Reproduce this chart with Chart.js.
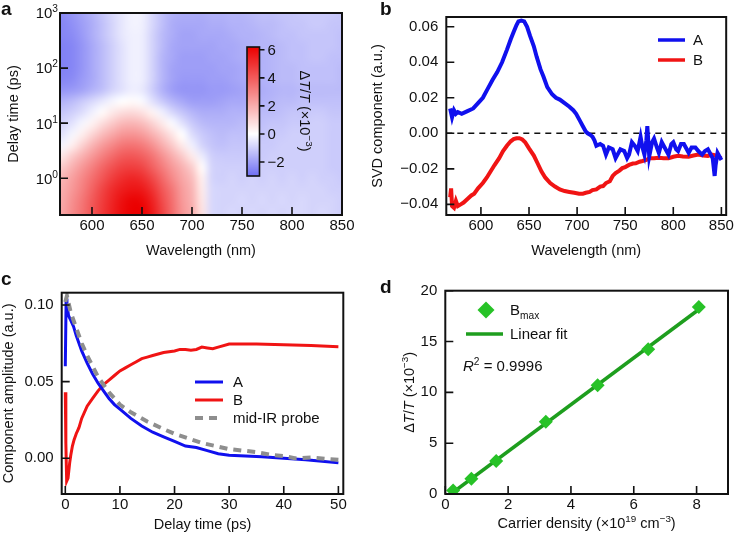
<!DOCTYPE html>
<html>
<head>
<meta charset="utf-8">
<script src="https://cdn.jsdelivr.net/npm/chart.js@4.4.1/dist/chart.umd.min.js"></script>
<style>
  html, body { margin: 0; padding: 0; background: #fff; }
  #fig { position: relative; width: 736px; height: 540px; }
  canvas { position: absolute; }
</style>
</head>
<body>
<div id="fig">
  <canvas id="ca" width="368" height="270" style="left:0;top:0"></canvas>
  <canvas id="cb" width="368" height="270" style="left:368px;top:0"></canvas>
  <canvas id="cc" width="368" height="270" style="left:0;top:270px"></canvas>
  <canvas id="cd" width="368" height="270" style="left:368px;top:270px"></canvas>
</div>
<script>
// ---- panel a: transient map (rows = delay, cols = wavelength), dT/T x1e-3
const heatWl = [570, 580, 590, 600, 610, 620, 630, 640, 650, 660, 670, 680, 690, 700, 710,
  720, 730, 740, 750, 760, 770, 780, 790, 800, 810, 820, 830, 840, 850]
const heatDelay = [0.25, 0.4, 0.63, 1, 1.6, 2.5, 4, 6.3, 10, 16, 25, 40, 63, 100, 160, 250, 400, 630, 1000]
const heatVals = [
  [2.2, 2.8, 3.4, 4.1, 4.8, 5.4, 5.9, 6.2, 6.2, 5.6, 4.6, 3.6, 2.6, 2.0, 0.7, -0.8, -0.9, -0.8, -0.9, -0.8, -0.9, -0.8, -0.9, -0.8, -0.8, -0.9, -0.8, -0.9, -1.0],
  [2.1, 2.7, 3.3, 4.0, 4.7, 5.3, 5.8, 6.1, 6.0, 5.4, 4.4, 3.5, 2.5, 1.9, 0.6, -0.8, -0.9, -0.9, -0.8, -0.9, -0.8, -0.9, -0.8, -0.9, -0.8, -0.9, -0.9, -0.9, -1.0],
  [2.0, 2.5, 3.1, 3.8, 4.5, 5.1, 5.5, 5.7, 5.6, 5.0, 4.1, 3.3, 2.4, 1.8, 0.5, -0.8, -0.9, -0.9, -0.9, -0.9, -0.9, -0.9, -0.9, -0.9, -0.9, -0.9, -0.9, -1.0, -1.0],
  [1.8, 2.3, 2.9, 3.5, 4.1, 4.7, 5.1, 5.3, 5.1, 4.5, 3.7, 2.9, 2.2, 1.6, 0.4, -0.9, -1.0, -0.9, -1.0, -0.9, -1.0, -0.9, -1.0, -0.9, -1.0, -0.9, -1.0, -1.0, -1.1],
  [1.3, 1.9, 2.5, 3.1, 3.7, 4.2, 4.6, 4.7, 4.5, 3.9, 3.2, 2.5, 1.9, 1.2, 0.1, -0.9, -1.0, -1.0, -1.0, -1.0, -1.0, -1.0, -1.0, -1.0, -1.0, -1.0, -1.0, -1.1, -1.1],
  [0.6, 1.3, 1.9, 2.5, 3.1, 3.6, 4.0, 4.1, 3.9, 3.4, 2.7, 2.0, 1.3, 0.5, -0.4, -1.0, -1.1, -1.1, -1.1, -1.0, -1.1, -1.0, -1.0, -1.0, -1.0, -1.0, -1.0, -1.1, -1.1],
  [-0.2, 0.4, 1.1, 1.8, 2.4, 2.9, 3.3, 3.4, 3.2, 2.7, 2.0, 1.3, 0.5, -0.3, -0.9, -1.2, -1.3, -1.2, -1.2, -1.1, -1.1, -1.1, -1.0, -1.0, -1.0, -1.0, -1.0, -1.1, -1.1],
  [-0.6, -0.2, 0.4, 1.0, 1.6, 2.1, 2.5, 2.6, 2.4, 1.9, 1.3, 0.6, 0.0, -0.7, -1.1, -1.3, -1.4, -1.3, -1.3, -1.2, -1.2, -1.1, -1.1, -1.0, -1.0, -1.0, -1.0, -1.1, -1.1],
  [-0.9, -0.6, -0.2, 0.3, 0.8, 1.3, 1.7, 1.8, 1.6, 1.1, 0.5, -0.1, -0.6, -1.1, -1.4, -1.5, -1.5, -1.5, -1.4, -1.4, -1.3, -1.2, -1.2, -1.1, -1.1, -1.0, -1.0, -1.1, -1.1],
  [-1.2, -1.0, -0.7, -0.3, 0.1, 0.5, 0.8, 0.9, 0.7, 0.3, -0.3, -0.8, -1.2, -1.5, -1.7, -1.7, -1.7, -1.6, -1.6, -1.5, -1.4, -1.4, -1.3, -1.2, -1.2, -1.1, -1.1, -1.2, -1.2],
  [-1.6, -1.4, -1.1, -0.8, -0.5, -0.2, 0.0, 0.1, -0.1, -0.6, -1.1, -1.5, -1.8, -2.0, -2.0, -2.0, -1.9, -1.8, -1.8, -1.7, -1.6, -1.5, -1.4, -1.4, -1.3, -1.3, -1.3, -1.3, -1.3],
  [-2.2, -2.1, -1.9, -1.6, -1.3, -0.9, -0.6, -0.35, -0.45, -1.0, -1.6, -2.0, -2.2, -2.2, -2.2, -2.1, -2.1, -2.0, -1.9, -1.8, -1.7, -1.6, -1.5, -1.5, -1.4, -1.4, -1.4, -1.4, -1.4],
  [-2.5, -2.4, -2.1, -1.8, -1.4, -1.0, -0.6, -0.3, -0.35, -0.9, -1.5, -1.9, -2.1, -2.1, -2.1, -2.0, -2.0, -1.9, -1.8, -1.7, -1.6, -1.5, -1.4, -1.4, -1.3, -1.3, -1.3, -1.3, -1.4],
  [-2.6, -2.5, -2.2, -1.8, -1.4, -1.0, -0.6, -0.3, -0.35, -0.9, -1.5, -1.9, -2.0, -2.0, -2.0, -2.0, -1.9, -1.9, -1.8, -1.7, -1.6, -1.5, -1.4, -1.4, -1.3, -1.3, -1.3, -1.3, -1.4],
  [-2.6, -2.5, -2.2, -1.8, -1.4, -1.0, -0.6, -0.3, -0.35, -0.9, -1.5, -1.8, -2.0, -2.0, -2.0, -1.9, -1.9, -1.8, -1.7, -1.7, -1.6, -1.5, -1.4, -1.3, -1.3, -1.2, -1.2, -1.3, -1.3],
  [-2.6, -2.5, -2.2, -1.8, -1.4, -1.0, -0.6, -0.3, -0.35, -0.9, -1.4, -1.8, -1.9, -1.9, -1.9, -1.9, -1.8, -1.8, -1.7, -1.6, -1.5, -1.5, -1.4, -1.3, -1.3, -1.2, -1.2, -1.2, -1.3],
  [-2.5, -2.4, -2.1, -1.7, -1.3, -0.9, -0.5, -0.3, -0.35, -0.9, -1.4, -1.7, -1.9, -1.9, -1.8, -1.8, -1.8, -1.7, -1.6, -1.6, -1.5, -1.4, -1.3, -1.3, -1.2, -1.2, -1.2, -1.2, -1.3],
  [-2.5, -2.3, -2.0, -1.7, -1.3, -0.9, -0.5, -0.25, -0.3, -0.8, -1.3, -1.7, -1.8, -1.8, -1.8, -1.7, -1.7, -1.6, -1.6, -1.5, -1.4, -1.4, -1.3, -1.2, -1.2, -1.1, -1.1, -1.2, -1.2],
  [-2.4, -2.2, -1.9, -1.6, -1.2, -0.8, -0.5, -0.25, -0.3, -0.8, -1.3, -1.6, -1.7, -1.7, -1.7, -1.6, -1.6, -1.5, -1.5, -1.4, -1.3, -1.3, -1.2, -1.2, -1.1, -1.1, -1.1, -1.1, -1.2]
]
const mapWlTicks = [600, 650, 700, 750, 800, 850]
const mapDelayTicks = [1, 10, 100, 1000]
const cbTicks = [-2, 0, 2, 4, 6]
const CB_MIN = -3, CB_MAX = 6.2

// ---- panel b: SVD spectra
const svdWlA = [568, 570, 572, 574, 576, 580, 586, 592, 597, 602, 607, 612, 617, 622, 627, 631, 634, 637, 639, 642,
  645, 648, 651, 655, 658, 662, 665, 669, 674, 678, 682, 687, 692, 696, 699, 703, 706, 709, 711, 714,
  716, 718, 720, 724, 727, 730, 733, 737, 740, 742, 745, 749, 752, 754, 757, 760, 763, 766, 768, 770,
  772, 773, 775, 778, 780, 783, 785, 788, 790, 793, 795, 798, 800, 803, 805, 808, 811, 814, 816, 819,
  823, 826, 830, 833, 836, 839, 841, 843, 844, 846, 848, 850]
const svdA = [0.014, 0.009, 0.013, 0.011, 0.012, 0.011, 0.0125, 0.014, 0.017, 0.020, 0.025, 0.030, 0.0345, 0.040, 0.047, 0.053, 0.057, 0.061, 0.063, 0.0635,
  0.063, 0.060, 0.055, 0.049, 0.043, 0.036, 0.032, 0.026, 0.022, 0.020, 0.019, 0.017, 0.015, 0.013, 0.011, 0.007, 0.004, 0.001, 0.000, -0.001,
  -0.002, -0.004, -0.007, -0.006, -0.007, -0.012, -0.008, -0.009, -0.014, -0.012, -0.009, -0.010, -0.014, -0.012, -0.005, -0.007, -0.010, -0.002, -0.008, -0.012,
  -0.004, 0.004, -0.013, -0.005, -0.003, -0.008, -0.011, -0.005, -0.007, -0.010, -0.012, -0.006, -0.005, -0.009, -0.010, -0.006, -0.006, -0.009, -0.011, -0.008,
  -0.008, -0.010, -0.012, -0.010, -0.009, -0.012, -0.014, -0.024, -0.018, -0.011, -0.013, -0.015]
const svdWlB = [568, 569, 570, 572, 574, 576, 579, 582, 586, 590, 593, 597, 602, 606, 610, 614, 619, 623, 627, 631,
  634, 637, 640, 643, 646, 650, 655, 659, 663, 667, 672, 677, 682, 687, 692, 697, 702, 706, 709, 713,
  716, 720, 724, 727, 730, 734, 737, 740, 744, 747, 750, 754, 758, 761, 765, 768, 772, 775, 780, 785,
  790, 795, 800, 805, 810, 816, 821, 826, 831, 836, 840, 843, 846, 850]
const svdB = [-0.036, -0.031, -0.041, -0.042, -0.038, -0.041, -0.040, -0.039, -0.037, -0.035, -0.034, -0.031, -0.028, -0.025, -0.0215, -0.018, -0.014, -0.010, -0.007, -0.0045,
  -0.0033, -0.0028, -0.0028, -0.0035, -0.005, -0.0085, -0.0125, -0.017, -0.0215, -0.025, -0.028, -0.030, -0.0316, -0.0325, -0.033, -0.0335, -0.034, -0.034, -0.0335, -0.033,
  -0.032, -0.0316, -0.030, -0.0297, -0.028, -0.027, -0.024, -0.0224, -0.021, -0.0196, -0.019, -0.0178, -0.017, -0.0169, -0.016, -0.0156, -0.015, -0.0141, -0.014, -0.0138,
  -0.014, -0.0141, -0.0132, -0.0127, -0.013, -0.0132, -0.0125, -0.0119, -0.0125, -0.0127, -0.012, -0.0123, -0.013, -0.0141]
const zeroX = [564, 855]
const zeroY = [0, 0]
const svdWlTicks = [600, 650, 700, 750, 800, 850]
const svdTicks = [-0.04, -0.02, 0, 0.02, 0.04, 0.06]

// ---- panel c: component kinetics
const kinTA = [0, 0.15, 0.3, 0.6, 1, 1.5, 2, 3, 4, 5, 6, 7, 8, 9, 10, 12, 14, 16, 18, 20, 22, 24, 26, 28, 30, 33, 36, 40, 44, 47, 50]
const kinA = [0.06, 0.104, 0.1, 0.093, 0.09, 0.086, 0.08, 0.07, 0.062, 0.055, 0.049, 0.044, 0.039, 0.035, 0.032, 0.026, 0.021, 0.017, 0.014, 0.011, 0.008, 0.007, 0.005, 0.003, 0.002, 0.0015, 0.001, 0.0, -0.001, -0.002, -0.003]
const kinTB = [0, 0.1, 0.25, 0.5, 0.8, 1, 1.3, 1.6, 2, 2.5, 3, 4, 5, 6, 7, 8, 9, 10, 11, 12, 13, 14, 15, 16, 18, 20, 21, 22, 23, 24, 25, 26, 27, 28, 30, 32, 35, 40, 45, 50]
const kinB = [0.043, 0.01, -0.015, -0.013, -0.003, 0.002, 0.008, 0.012, 0.016, 0.02, 0.026, 0.034, 0.039, 0.044, 0.048, 0.051, 0.054, 0.057, 0.059, 0.061, 0.063, 0.065, 0.066, 0.067, 0.069, 0.070, 0.071, 0.071, 0.0705, 0.071, 0.0725, 0.072, 0.0715, 0.0725, 0.0745, 0.0745, 0.0745, 0.074, 0.0735, 0.0728]
const kinTIR = [0, 0.3, 1, 2, 3, 4, 5, 6, 7, 8, 10, 12, 15, 18, 20, 25, 30, 35, 38, 40, 42, 45, 48, 50]
const kinIR = [0.102, 0.106, 0.095, 0.085, 0.075, 0.067, 0.06, 0.053, 0.048, 0.043, 0.035, 0.030, 0.024, 0.019, 0.016, 0.010, 0.006, 0.004, 0.002, 0.0015, 0.0, 0.0005, -0.0005, -0.001]
const kinTTicks = [0, 10, 20, 30, 40, 50]
const kinTicks = [0, 0.05, 0.1]

// ---- panel d: B max vs carrier density
const density = [0.25, 0.83, 1.62, 3.2, 4.85, 6.46, 8.07]
const bmax = [0.35, 1.5, 3.25, 7.1, 10.7, 14.25, 18.4]
const fitX = [0.2, 8.07]
const fitY = [0.05, 18.15]
const densTicks = [0, 2, 4, 6, 8]
const bmaxTicks = [0, 5, 10, 15, 20]

const FONT = '"Liberation Sans", Arial, Helvetica, sans-serif'
const INK = '#111'
const BLUE = '#1010ee'
const RED = '#f01414'
const GREY = '#8e8e8e'
const GREEN = '#1e9e1e'
const GREEN_PT = '#27c227'
Chart.defaults.font.family = FONT
Chart.defaults.color = INK

function pts(xs, ys) { return xs.map((x, i) => ({ x, y: ys[i] })) }
const minus = s => s.replace('-', '\u2212')

function cmap(v) {
  if (v >= 0) {
    const t = Math.min(1, v / CB_MAX)
    return [255 - t * 20, 255 - t * 255, 255 - t * 255]
  }
  const t = Math.min(1, v / CB_MIN)
  return [255 - t * 145, 255 - t * 145, 255 - t * 12]
}

// text with italic / superscript / subscript pieces, centred vertically on y
function rich(ctx, segs, x, y, size, align, rot) {
  const fontOf = s => `${s.it ? 'italic ' : ''}${s.sup || s.sub ? size * 0.68 : size}px ${FONT}`
  let w = 0
  const ws = segs.map(s => { ctx.font = fontOf(s); const m = ctx.measureText(s.t).width; w += m; return m })
  ctx.save()
  ctx.translate(x, y)
  ctx.rotate(rot || 0)
  let cx = align === 'center' ? -w / 2 : align === 'right' ? -w : 0
  ctx.fillStyle = INK
  ctx.textAlign = 'left'
  ctx.textBaseline = 'alphabetic'
  segs.forEach((s, i) => {
    ctx.font = fontOf(s)
    const dy = s.sup ? -size * 0.4 : s.sub ? size * 0.25 : 0
    ctx.fillText(s.t, cx, dy + size * 0.36)
    cx += ws[i]
  })
  ctx.restore()
}

function axis(o) {
  return {
    type: o.type || 'linear',
    position: o.pos,
    min: o.min,
    max: o.max,
    grid: { display: false, drawTicks: false, tickLength: 0 },
    border: { display: false },
    ticks: {
      display: o.labels !== false,
      padding: o.pad,
      autoSkip: false,
      maxRotation: 0,
      font: { size: 15 },
      color: INK,
      callback: o.fmt || (v => String(v))
    },
    title: o.title
      ? { display: true, text: o.title, color: INK, font: { size: 14.5 }, padding: o.pos === 'left' ? { top: o.tpad } : { bottom: o.tpad } }
      : { display: false },
    afterBuildTicks: s => { s.ticks = o.ticks.map(v => ({ value: v })) },
    afterFit: s => { if (o.pos === 'left') s.width = o.size; else s.height = o.size }
  }
}

const frame = {
  id: 'frame',
  afterDraw(chart, args, opts) {
    const { ctx, chartArea: ca, scales: { x, y } } = chart
    ctx.save()
    ctx.strokeStyle = INK
    ctx.lineWidth = 1.6
    ctx.beginPath()
    x.ticks.forEach(t => { const p = x.getPixelForValue(t.value); ctx.moveTo(p, ca.bottom); ctx.lineTo(p, ca.bottom - 8) })
    y.ticks.forEach(t => { const p = y.getPixelForValue(t.value); ctx.moveTo(ca.left, p); ctx.lineTo(ca.left + 8, p) })
    ctx.stroke()
    ctx.lineWidth = 2
    ctx.strokeRect(ca.left, ca.top, ca.width, ca.height)
    ctx.fillStyle = INK
    ctx.font = `bold 19px ${FONT}`
    ctx.textAlign = 'left'
    ctx.textBaseline = 'alphabetic'
    ctx.fillText(opts.letter, opts.lx, opts.ly)
    ctx.restore()
  }
}

function base(padding, letter, lx, ly) {
  return {
    responsive: false,
    animation: false,
    devicePixelRatio: 1,
    layout: { padding, autoPadding: false },
    plugins: { legend: { display: false }, tooltip: { enabled: false }, frame: { letter, lx, ly } }
  }
}

function line(label, xs, ys, color, width, dash) {
  return { label, data: pts(xs, ys), showLine: true, borderColor: color, backgroundColor: color,
    borderWidth: width, borderDash: dash || [], pointRadius: 0, tension: 0 }
}

// ---------------- a ----------------
const heatLayer = {
  id: 'heat',
  beforeDatasetsDraw(chart) {
    const { ctx, chartArea: ca, scales: { x, y } } = chart
    const nx = heatWl.length, ny = heatDelay.length
    const off = document.createElement('canvas')
    off.width = nx; off.height = ny
    const oc = off.getContext('2d')
    const img = oc.createImageData(nx, ny)
    for (let r = 0; r < ny; r++) {
      for (let c = 0; c < nx; c++) {
        const col = cmap(heatVals[r][c])
        const i = ((ny - 1 - r) * nx + c) * 4
        img.data[i] = col[0]; img.data[i + 1] = col[1]; img.data[i + 2] = col[2]; img.data[i + 3] = 255
      }
    }
    oc.putImageData(img, 0, 0)
    const dw = (heatWl[nx - 1] - heatWl[0]) / (nx - 1)
    const half = Math.pow(heatDelay[ny - 1] / heatDelay[0], 0.5 / (ny - 1))
    const x0 = x.getPixelForValue(heatWl[0] - dw / 2)
    const x1 = x.getPixelForValue(heatWl[nx - 1] + dw / 2)
    const y0 = y.getPixelForValue(heatDelay[ny - 1] * half)
    const y1 = y.getPixelForValue(heatDelay[0] / half)
    ctx.save()
    ctx.beginPath(); ctx.rect(ca.left, ca.top, ca.width, ca.height); ctx.clip()
    ctx.imageSmoothingEnabled = true
    ctx.imageSmoothingQuality = 'high'
    ctx.drawImage(off, x0, y0, x1 - x0, y1 - y0)
    ctx.restore()
  },
  afterDraw(chart) {
    const { ctx, chartArea: ca, scales: { y } } = chart
    // log tick labels 10^n
    y.ticks.forEach(t => {
      rich(ctx, [{ t: '10' }, { t: String(Math.round(Math.log10(t.value))), sup: true }], ca.left - 2, y.getPixelForValue(t.value), 15, 'right')
    })
    // colour bar
    const bx = 247, by = 47, bw = 12.5, bh = 129
    const vy = v => by + (CB_MAX - v) / (CB_MAX - CB_MIN) * bh
    ctx.save()
    for (let i = 0; i < bh; i++) {
      const c = cmap(CB_MAX - (i + 0.5) / bh * (CB_MAX - CB_MIN))
      ctx.fillStyle = `rgb(${c[0]},${c[1]},${c[2]})`
      ctx.fillRect(bx, by + i, bw, 1.2)
    }
    ctx.strokeStyle = INK
    ctx.lineWidth = 1.6
    ctx.strokeRect(bx, by, bw, bh)
    ctx.beginPath()
    cbTicks.forEach(v => { ctx.moveTo(bx + bw, vy(v)); ctx.lineTo(bx + bw + 5, vy(v)) })
    ctx.stroke()
    ctx.fillStyle = INK
    ctx.font = `15px ${FONT}`
    ctx.textAlign = 'left'
    ctx.textBaseline = 'middle'
    cbTicks.forEach(v => ctx.fillText(minus(String(v)), bx + bw + 8, vy(v) + 1))
    ctx.restore()
    rich(ctx, [{ t: '\u0394' }, { t: 'T', it: true }, { t: '/' }, { t: 'T', it: true }, { t: ' (\u00d710' }, { t: '\u22123', sup: true }, { t: ')' }],
      305, 111, 14.5, 'center', Math.PI / 2)
  }
}

new Chart(document.getElementById('ca'), {
  type: 'scatter',
  data: { datasets: [] },
  options: Object.assign(base({ top: 13, right: 26, left: 0, bottom: 0 }, 'a', 1, 15), {
    scales: {
      x: axis({ pos: 'bottom', min: 568, max: 850, ticks: mapWlTicks, pad: 2, size: 55, title: 'Wavelength (nm)', tpad: 10 }),
      y: axis({ type: 'logarithmic', pos: 'left', min: 0.215, max: 1000, ticks: mapDelayTicks, labels: false, size: 60, title: 'Delay time (ps)', tpad: 4.8 })
    }
  }),
  plugins: [heatLayer, frame]
})

// ---------------- b ----------------
const legendB = {
  id: 'legendB',
  afterDraw(chart) {
    const { ctx } = chart
    const ds = chart.data.datasets
    ctx.save()
    ;[[ds[0], 40], [ds[1], 60]].forEach(([d, yy]) => {
      ctx.strokeStyle = d.borderColor; ctx.lineWidth = 3.5
      ctx.beginPath(); ctx.moveTo(290, yy); ctx.lineTo(317, yy); ctx.stroke()
      ctx.fillStyle = INK; ctx.font = `15px ${FONT}`; ctx.textBaseline = 'middle'; ctx.textAlign = 'left'
      ctx.fillText(d.label, 325, yy + 1)
    })
    ctx.restore()
  }
}

new Chart(document.getElementById('cb'), {
  type: 'scatter',
  data: {
    datasets: [
      line('A', svdWlA, svdA, BLUE, 4),
      line('B', svdWlB, svdB, RED, 4),
      line('zero', zeroX, zeroY, INK, 1.6, [6, 5])
    ]
  },
  options: Object.assign(base({ top: 11.7, right: 6.3, left: 0, bottom: 0 }, 'b', 12, 15), {
    scales: {
      x: axis({ pos: 'bottom', min: 564, max: 855, ticks: svdWlTicks, pad: 2, size: 55, title: 'Wavelength (nm)', tpad: 10 }),
      y: axis({ pos: 'left', min: -0.046, max: 0.0655, ticks: svdTicks, pad: 8, size: 78.3, title: 'SVD component (a.u.)', tpad: 1.3,
        fmt: v => minus(v.toFixed(2)) })
    }
  }),
  plugins: [frame, legendB]
})

// ---------------- c ----------------
const legendC = {
  id: 'legendC',
  afterDraw(chart) {
    const { ctx } = chart
    const ds = chart.data.datasets
    ctx.save()
    ;[[ds[1], 112], [ds[2], 130], [ds[0], 148]].forEach(([d, yy]) => {
      ctx.strokeStyle = d.borderColor; ctx.lineWidth = d.borderWidth
      ctx.setLineDash(d.borderDash)
      ctx.beginPath(); ctx.moveTo(195, yy); ctx.lineTo(223, yy); ctx.stroke()
      ctx.fillStyle = INK; ctx.font = `15px ${FONT}`; ctx.textBaseline = 'middle'; ctx.textAlign = 'left'
      ctx.fillText(d.label, 233, yy + 1)
    })
    ctx.restore()
  }
}

new Chart(document.getElementById('cc'), {
  type: 'scatter',
  data: {
    datasets: [
      line('mid-IR probe', kinTIR, kinIR, GREY, 4, [8, 6]),
      line('A', kinTA, kinA, BLUE, 3),
      line('B', kinTB, kinB, RED, 3)
    ]
  },
  options: Object.assign(base({ top: 22.7, right: 24.7, left: 0, bottom: 0 }, 'c', 1, 15), {
    scales: {
      x: axis({ pos: 'bottom', min: -0.66, max: 50.9, ticks: kinTTicks, pad: 2, size: 46, title: 'Delay time (ps)', tpad: 6.3 }),
      y: axis({ pos: 'left', min: -0.0233, max: 0.108, ticks: kinTicks, pad: 8, size: 61.7, title: 'Component amplitude (a.u.)', tpad: 0,
        fmt: v => v.toFixed(2) })
    }
  }),
  plugins: [frame, legendC]
})

// ---------------- d ----------------
const legendD = {
  id: 'legendD',
  afterDraw(chart) {
    const { ctx, chartArea: ca } = chart
    ctx.save()
    ctx.fillStyle = GREEN_PT
    ctx.beginPath()
    ctx.moveTo(118, 31.5); ctx.lineTo(126.5, 40); ctx.lineTo(118, 48.5); ctx.lineTo(109.5, 40); ctx.closePath()
    ctx.fill()
    ctx.strokeStyle = GREEN; ctx.lineWidth = 3.5
    ctx.beginPath(); ctx.moveTo(98, 64); ctx.lineTo(135, 64); ctx.stroke()
    ctx.restore()
    rich(ctx, [{ t: 'B' }, { t: 'max', sub: true }], 142, 40, 15, 'left')
    rich(ctx, [{ t: 'Linear fit' }], 142, 64, 15, 'left')
    rich(ctx, [{ t: 'R', it: true }, { t: '2', sup: true }, { t: ' = 0.9996' }], 95, 96, 15, 'left')
    rich(ctx, [{ t: 'Carrier density (\u00d710' }, { t: '19', sup: true }, { t: ' cm' }, { t: '\u22123', sup: true }, { t: ')' }],
      (ca.left + ca.right) / 2, 253, 14.5, 'center')
    rich(ctx, [{ t: '\u0394' }, { t: 'T', it: true }, { t: '/' }, { t: 'T', it: true }, { t: ' (\u00d710' }, { t: '\u22123', sup: true }, { t: ')' }],
      41, (ca.top + ca.bottom) / 2, 14.5, 'center', -Math.PI / 2)
  }
}

new Chart(document.getElementById('cd'), {
  type: 'scatter',
  data: {
    datasets: [
      { label: 'B max', data: pts(density, bmax), pointStyle: 'rectRot', pointRadius: 7, backgroundColor: GREEN_PT, borderColor: GREEN_PT, borderWidth: 0, showLine: false },
      line('Linear fit', fitX, fitY, GREEN, 3.5)
    ]
  },
  options: Object.assign(base({ top: 20.7, right: 8, left: 0, bottom: 0 }, 'd', 12, 23), {
    scales: {
      x: axis({ pos: 'bottom', min: 0, max: 9, ticks: densTicks, pad: 2, size: 46 }),
      y: axis({ pos: 'left', min: 0, max: 20, ticks: bmaxTicks, pad: 8, size: 77.3 })
    }
  }),
  plugins: [frame, legendD]
})
</script>
</body>
</html>
